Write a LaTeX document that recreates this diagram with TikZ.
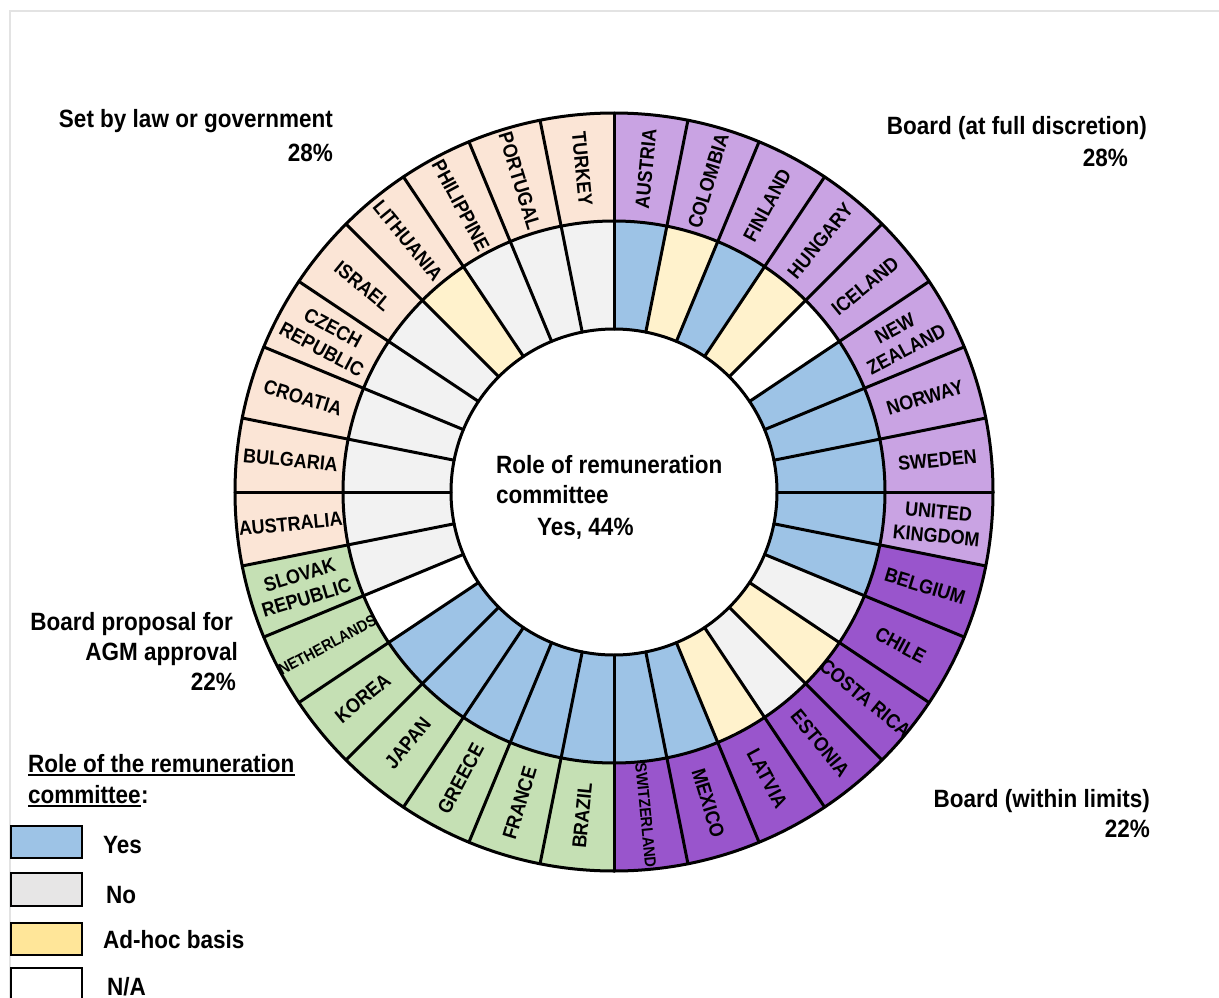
\documentclass[tikz,border=0pt]{standalone}
\usepackage{fontspec}
\setmainfont[FakeStretch=0.9]{Liberation Sans}
\definecolor{peach}{HTML}{FBE5D6}
\definecolor{lpur}{HTML}{C9A3E3}
\definecolor{dpur}{HTML}{9955CC}
\definecolor{grn}{HTML}{C5E0B4}
\definecolor{cyes}{HTML}{9DC3E6}
\definecolor{cno}{HTML}{F2F2F2}
\definecolor{cadh}{HTML}{FFF2CC}
\definecolor{cna}{HTML}{FFFFFF}
\definecolor{lno}{HTML}{E7E6E6}
\definecolor{ladh}{HTML}{FFE699}
\definecolor{framegray}{HTML}{E3E3E3}
\newcommand{\smalllab}[1]{{\fontsize{16}{18}\selectfont #1}}
\begin{document}
\begin{tikzpicture}[x=1pt,y=1pt,
  lab/.style={font=\fontsize{20}{24}\selectfont\bfseries, align=center, inner sep=0pt},
  ttl/.style={font=\fontsize{25}{31}\selectfont\bfseries, inner sep=0pt},
  ring/.style={line width=3pt, line cap=round},
  lgd/.style={draw=black, line width=1.7pt}]
\useasboundingbox (0,0) rectangle (1219,-998);
\clip (0,0) rectangle (1219,-998);
\fill[white] (0,0) rectangle (1219,-998);
\draw[framegray, line width=1.5pt] (10,-1010) -- (10,-11) -- (1230,-11);

\begin{scope}[shift={(614,-492)}]
\foreach \lab/\oc/\ic [count=\n] in {
  {AUSTRIA}/lpur/cyes, {COLOMBIA}/lpur/cadh, {FINLAND}/lpur/cyes, {HUNGARY}/lpur/cadh,
  {ICELAND}/lpur/cna, {NEW\\ZEALAND}/lpur/cyes, {NORWAY}/lpur/cyes, {SWEDEN}/lpur/cyes,
  {UNITED\\KINGDOM}/lpur/cyes,
  {BELGIUM}/dpur/cyes, {CHILE}/dpur/cno, {COSTA RICA}/dpur/cadh, {ESTONIA}/dpur/cno,
  {LATVIA}/dpur/cadh, {MEXICO}/dpur/cyes, {\smalllab{SWITZERLAND}}/dpur/cyes,
  {BRAZIL}/grn/cyes, {FRANCE}/grn/cyes, {GREECE}/grn/cyes, {JAPAN}/grn/cyes,
  {KOREA}/grn/cyes, {\smalllab{NETHERLANDS}}/grn/cna, {SLOVAK\\REPUBLIC}/grn/cno,
  {AUSTRALIA}/peach/cno, {BULGARIA}/peach/cno, {CROATIA}/peach/cno,
  {CZECH\\REPUBLIC}/peach/cno, {ISRAEL}/peach/cno, {LITHUANIA}/peach/cadh,
  {PHILIPPINE}/peach/cno, {PORTUGAL}/peach/cno, {TURKEY}/peach/cno}{
  \pgfmathsetmacro\aa{90-11.25*(\n-1)}
  \pgfmathsetmacro\ab{\aa-11.25}
  \pgfmathsetmacro\am{\aa-5.625}
  \pgfmathsetmacro\rot{cos(\am)>0 ? \am : \am+180}
  \fill[\oc] (\aa:271) -- (\aa:379) arc[start angle=\aa, end angle=\ab, radius=379]
     -- (\ab:271) arc[start angle=\ab, end angle=\aa, radius=271] -- cycle;
  \fill[\ic] (\aa:163) -- (\aa:271) arc[start angle=\aa, end angle=\ab, radius=271]
     -- (\ab:163) arc[start angle=\ab, end angle=\aa, radius=163] -- cycle;
  \node[lab, rotate=\rot] (c\n) at (\am:325) {\lab};
}
\draw[ring] (0,0) circle[radius=379];
\draw[ring] (0,0) circle[radius=271];
\draw[ring] (0,0) circle[radius=163];
\foreach \i in {0,...,31} \draw[ring] ({90-11.25*\i}:163) -- ({90-11.25*\i}:379);
\end{scope}

% category labels
\node[ttl, anchor=base east] (t1) at (333,-128) {Set by law or government};
\node[ttl, anchor=base east] (t1p) at (333,-161) {28\%};
\node[ttl, anchor=base east] (t2) at (1147,-135) {Board (at full discretion)};
\node[ttl, anchor=base east] (t2p) at (1128,-166) {28\%};
\node[ttl, anchor=base east] (t3a) at (233,-630) {Board proposal for};
\node[ttl, anchor=base east] (t3b) at (238,-660) {AGM approval};
\node[ttl, anchor=base east] (t3p) at (236,-690) {22\%};
\node[ttl, anchor=base east] (t4) at (1150,-807) {Board (within limits)};
\node[ttl, anchor=base east] (t4p) at (1150,-837) {22\%};

% centre
\node[ttl, anchor=base west] (m1) at (496,-473) {Role of remuneration};
\node[ttl, anchor=base west] (m2) at (496,-503) {committee};
\node[ttl, anchor=base west] (m3) at (537,-535) {Yes, 44\%};

% legend
\node[ttl, anchor=base west] (lg1) at (28,-772) {Role of the remuneration};
\node[ttl, anchor=base west] (lg2) at (28,-803) {committee};
\node[ttl, anchor=base west] (lg3) at (lg2.base east) {:};
\draw[line width=1.8pt] ([yshift=-3pt]lg1.base west) -- ([yshift=-3pt]lg1.base east);
\draw[line width=1.8pt] ([yshift=-3pt]lg2.base west) -- ([yshift=-3pt]lg2.base east);

\draw[lgd, fill=cyes] (11,-826) rectangle (82,-858);
\node[ttl, anchor=base west] (ly) at (103,-853) {Yes};
\draw[lgd, fill=lno] (11,-873) rectangle (82,-906);
\node[ttl, anchor=base west] (ln) at (106,-903) {No};
\draw[lgd, fill=ladh] (11,-923) rectangle (82,-955);
\node[ttl, anchor=base west] (la) at (103,-948) {Ad-hoc basis};
\draw[lgd, fill=white] (11,-968) rectangle (82,-1010);
\node[ttl, anchor=base west] (lna) at (107,-995) {N/A};
\end{tikzpicture}
\end{document}
